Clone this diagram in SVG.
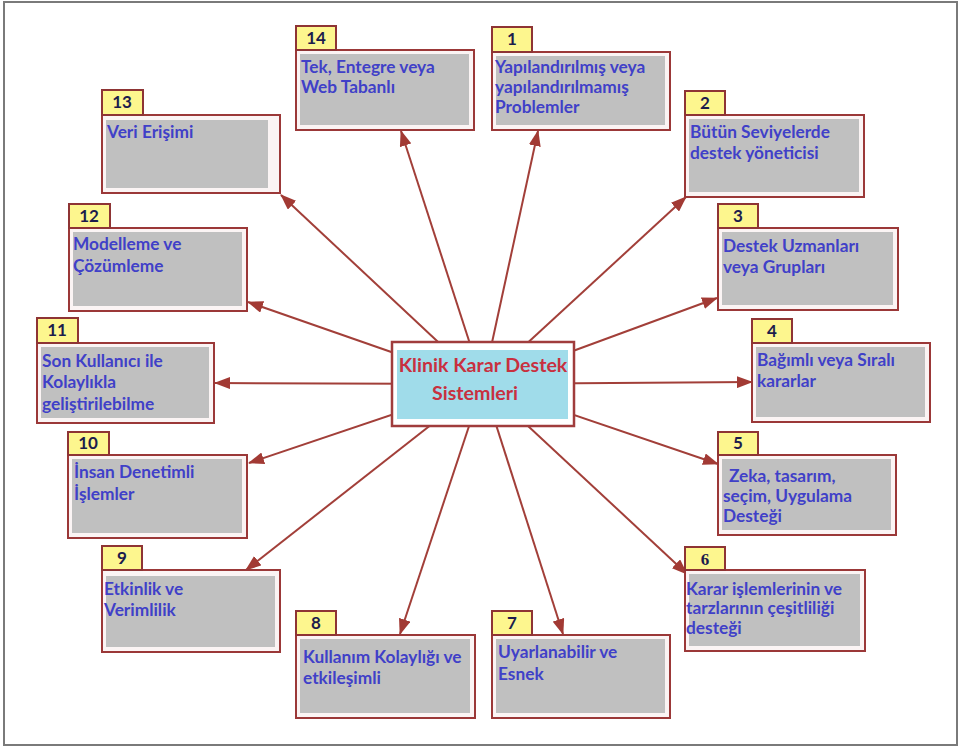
<svg xmlns="http://www.w3.org/2000/svg" width="963" height="750" viewBox="0 0 963 750">
<defs>
<style>
.frame{fill:#ffffff;stroke:#7a7a7a;stroke-width:2}
.box{fill:#fbf4f4;stroke:#9b3838;stroke-width:2}
.in{fill:#c0c0c0}
.tab{fill:#fdf68e;stroke:#8e3434;stroke-width:2}
.num{font-family:Lato,"Liberation Sans",sans-serif;font-weight:700;font-size:17px;fill:#1c1c4c;text-anchor:middle}
.t{font-family:Lato,"Liberation Sans",sans-serif;font-weight:700;font-size:17.3px;fill:#4040c8}
.c{font-family:Lato,"Liberation Sans",sans-serif;font-weight:700;font-size:19.6px;fill:#c8303f;text-anchor:middle}
.ln{stroke:#a23f39;stroke-width:2;fill:none;marker-end:url(#ah)}
</style>
<marker id="ah" markerWidth="16" markerHeight="12" refX="15" refY="6" orient="auto" markerUnits="userSpaceOnUse">
<path d="M0,0 L16,6 L0,12 z" fill="#a23a34"/>
</marker>
</defs>
<rect class="frame" x="4" y="2" width="953" height="743"/>
<g id="connectors">
<line class="ln" x1="483" y1="384" x2="401" y2="131"/>
<line class="ln" x1="483" y1="384" x2="538" y2="131"/>
<line class="ln" x1="483" y1="384" x2="686" y2="197"/>
<line class="ln" x1="483" y1="384" x2="717" y2="298"/>
<line class="ln" x1="483" y1="384" x2="752" y2="382"/>
<line class="ln" x1="483" y1="384" x2="718" y2="464"/>
<line class="ln" x1="483" y1="384" x2="687" y2="574"/>
<line class="ln" x1="483" y1="384" x2="563" y2="634"/>
<line class="ln" x1="483" y1="384" x2="400" y2="634"/>
<line class="ln" x1="483" y1="384" x2="246" y2="570"/>
<line class="ln" x1="483" y1="384" x2="249" y2="463"/>
<line class="ln" x1="483" y1="384" x2="215" y2="383"/>
<line class="ln" x1="483" y1="384" x2="248" y2="302"/>
<line class="ln" x1="483" y1="384" x2="281" y2="195"/>
</g>
<g id="center">
<rect x="392" y="342" width="182" height="84" fill="#ffffff" stroke="#a03c3c" stroke-width="2.5"/>
<rect x="397" y="350" width="171" height="69" fill="#a0dcea"/>
<text class="c" x="483" y="372">Klinik Karar Destek</text>
<text class="c" x="475" y="400">Sistemleri</text>
</g>
<g id="n14">
<rect class="box" x="296" y="50" width="178" height="80"/><rect class="in" x="300" y="54" width="169" height="71"/>
<rect class="tab" x="296" y="26" width="40" height="24"/><text class="num" x="316" y="44">14</text>
<text class="t" x="301" y="73">Tek, Entegre veya</text><text class="t" x="301" y="93">Web Tabanlı</text>
</g>
<g id="n1">
<rect class="box" x="492" y="52" width="178" height="78"/><rect class="in" x="496" y="56" width="169" height="69"/>
<rect class="tab" x="492" y="27" width="40" height="25"/><text class="num" x="512" y="45">1</text>
<text class="t" x="495" y="73">Yapılandırılmış veya</text><text class="t" x="495" y="93">yapılandırılmamış</text><text class="t" x="495" y="113">Problemler</text>
</g>
<g id="n2">
<rect class="box" x="685" y="115" width="179" height="82"/><rect class="in" x="689" y="119" width="170" height="73"/>
<rect class="tab" x="685" y="91" width="40" height="24"/><text class="num" x="705" y="109">2</text>
<text class="t" x="690" y="138">Bütün Seviyelerde</text><text class="t" x="690" y="159">destek yöneticisi</text>
</g>
<g id="n3">
<rect class="box" x="718" y="228" width="180" height="82"/><rect class="in" x="722" y="232" width="171" height="73"/>
<rect class="tab" x="718" y="204" width="40" height="24"/><text class="num" x="738" y="222">3</text>
<text class="t" x="723" y="252">Destek Uzmanları</text><text class="t" x="723" y="273">veya Grupları</text>
</g>
<g id="n4">
<rect class="box" x="752" y="343" width="178" height="79"/><rect class="in" x="756" y="347" width="169" height="70"/>
<rect class="tab" x="752" y="319" width="40" height="24"/><text class="num" x="772" y="337">4</text>
<text class="t" x="757" y="366">Bağımlı veya Sıralı</text><text class="t" x="757" y="387">kararlar</text>
</g>
<g id="n5">
<rect class="box" x="718" y="455" width="178" height="80"/><rect class="in" x="722" y="459" width="169" height="71"/>
<rect class="tab" x="718" y="432" width="40" height="23"/><text class="num" x="738" y="449">5</text>
<text class="t" x="729" y="482">Zeka, tasarım,</text><text class="t" x="723" y="502">seçim, Uygulama</text><text class="t" x="723" y="522">Desteği</text>
</g>
<g id="n6">
<rect class="box" x="685" y="570" width="180" height="81"/><rect class="in" x="689" y="574" width="171" height="72"/>
<rect class="tab" x="685" y="547" width="40" height="23"/><text class="num" x="705" y="565" style="font-family:'Liberation Serif',serif">6</text>
<text class="t" x="686" y="595">Karar işlemlerinin ve</text><text class="t" x="686" y="614">tarzlarının çeşitliliği</text><text class="t" x="686" y="634">desteği</text>
</g>
<g id="n7">
<rect class="box" x="492" y="635" width="178" height="83"/><rect class="in" x="496" y="639" width="169" height="74"/>
<rect class="tab" x="492" y="611" width="40" height="24"/><text class="num" x="512" y="629">7</text>
<text class="t" x="498" y="658">Uyarlanabilir ve</text><text class="t" x="498" y="680">Esnek</text>
</g>
<g id="n8">
<rect class="box" x="296" y="635" width="179" height="83"/><rect class="in" x="300" y="639" width="170" height="74"/>
<rect class="tab" x="296" y="611" width="40" height="24"/><text class="num" x="316" y="629">8</text>
<text class="t" x="303" y="663">Kullanım Kolaylığı ve</text><text class="t" x="303" y="684">etkileşimli</text>
</g>
<g id="n9">
<rect class="box" x="102" y="570" width="178" height="82"/><rect class="in" x="106" y="576" width="169" height="71"/>
<rect class="tab" x="102" y="546" width="40" height="24"/><text class="num" x="122" y="564">9</text>
<text class="t" x="104" y="595">Etkinlik ve</text><text class="t" x="104" y="616">Verimlilik</text>
</g>
<g id="n10">
<rect class="box" x="68" y="455" width="179" height="83"/><rect class="in" x="72" y="459" width="170" height="74"/>
<rect class="tab" x="68" y="432" width="41" height="23"/><text class="num" x="88" y="449">10</text>
<text class="t" x="74" y="478">İnsan Denetimli</text><text class="t" x="74" y="500">İşlemler</text>
</g>
<g id="n11">
<rect class="box" x="37" y="343" width="177" height="80"/><rect class="in" x="41" y="347" width="168" height="71"/>
<rect class="tab" x="37" y="318" width="41" height="25"/><text class="num" x="57" y="336">11</text>
<text class="t" x="42" y="367">Son Kullanıcı ile</text><text class="t" x="42" y="388">Kolaylıkla</text><text class="t" x="42" y="410">geliştirilebilme</text>
</g>
<g id="n12">
<rect class="box" x="69" y="228" width="178" height="83"/><rect class="in" x="73" y="232" width="169" height="74"/>
<rect class="tab" x="69" y="204" width="41" height="24"/><text class="num" x="89" y="222">12</text>
<text class="t" x="73" y="250">Modelleme ve</text><text class="t" x="73" y="272">Çözümleme</text>
</g>
<g id="n13">
<rect class="box" x="102" y="115" width="178" height="78"/><rect class="in" x="106" y="120" width="162" height="68"/>
<rect class="tab" x="102" y="90" width="41" height="25"/><text class="num" x="122" y="108">13</text>
<text class="t" x="107" y="138">Veri Erişimi</text>
</g>
</svg>
